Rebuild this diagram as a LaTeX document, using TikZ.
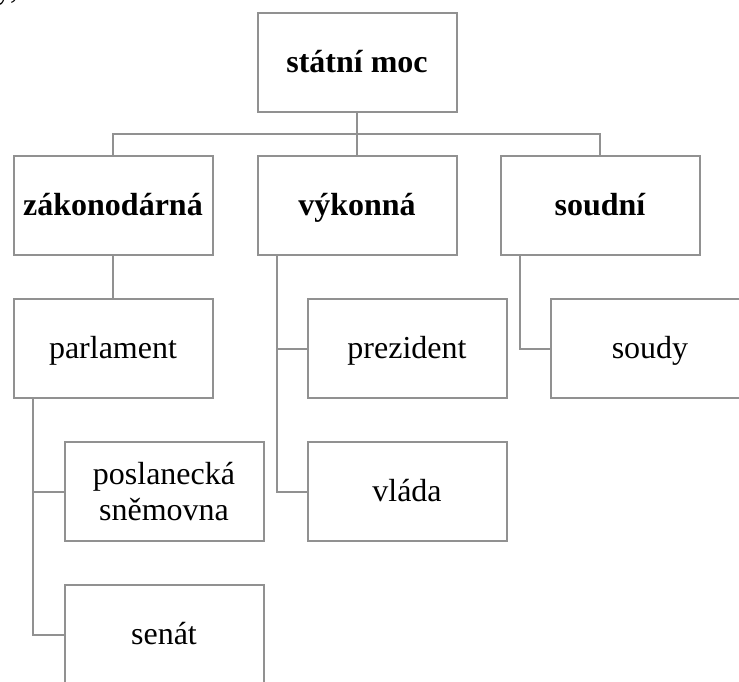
\documentclass[tikz,border=0pt]{standalone}
\usepackage{fontspec}
\setmainfont{Liberation Serif}
\definecolor{linegray}{RGB}{145,145,145}
\begin{document}
\begin{tikzpicture}[x=1pt,y=-1pt,
  box/.style={draw=linegray, line width=2pt, minimum width=199pt, minimum height=99pt,
    inner sep=0pt, font=\fontsize{32}{36}\selectfont, text height=22pt, text depth=3pt, align=center},
  bbox/.style={box, font=\fontsize{32}{36}\selectfont\bfseries},
  twoline/.style={box, text height=, text depth=},
  link/.style={draw=linegray, line width=2pt}]
\useasboundingbox (0,0) rectangle (739,682);
\clip (0,0) rectangle (739,682);
% cut-off text fragment at the top left
\node[anchor=base west, inner sep=0pt, font=\fontsize{32}{36}\selectfont] (frag) at (-4,-1) {y,};
% level 1
\node[bbox] (top) at (357,63) {státní moc};
% level 2
\node[bbox] (zak) at (113,205.5) {zákonodárná};
\node[bbox] (vyk) at (357,205.5) {výkonná};
\node[bbox] (soud) at (600,205.5) {soudní};
% level 3
\node[box] (parl) at (113,348.5) {parlament};
\node[twoline] (posl) at (164,491.5) {poslanecká\\sněmovna};
\node[box] (senat) at (164,634.5) {senát};
\node[box] (prez) at (407,348.5) {prezident};
\node[box] (vlada) at (407,491.5) {vláda};
\node[box] (soudy) at (650,348.5) {soudy};
% connectors
\draw[link] (top.south) -- (vyk.north);
\draw[link] (zak.north) -- ++(0,-21) -| (soud.north);
\draw[link] (zak.south) -- (parl.north);
\coordinate (pv) at ([xshift=-80pt]parl.south);
\draw[link] (pv) |- (posl.west);
\draw[link] (pv) |- (senat.west);
\coordinate (vv) at ([xshift=-80pt]vyk.south);
\draw[link] (vv) |- (prez.west);
\draw[link] (vv) |- (vlada.west);
\coordinate (sv) at ([xshift=-80pt]soud.south);
\draw[link] (sv) |- (soudy.west);
\end{tikzpicture}
\end{document}
